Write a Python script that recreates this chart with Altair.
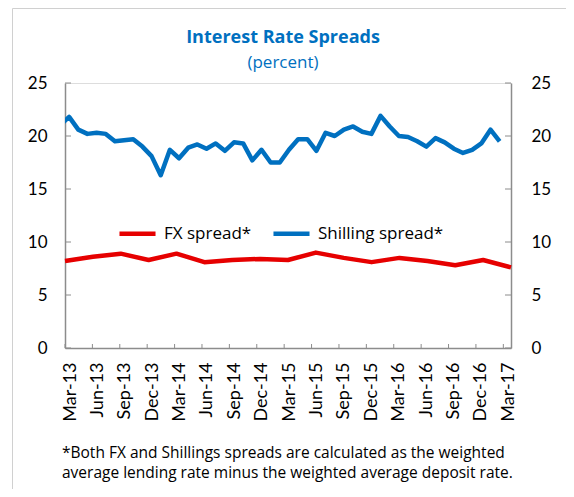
import altair as alt
import pandas as pd

quarter_labels = ["Mar-13", "Jun-13", "Sep-13", "Dec-13", "Mar-14", "Jun-14", "Sep-14",
                  "Dec-14", "Mar-15", "Jun-15", "Sep-15", "Dec-15", "Mar-16", "Jun-16",
                  "Sep-16", "Dec-16", "Mar-17"]
shilling_spread = [21.0, 21.8, 20.6, 20.2, 20.3, 20.2, 19.5, 19.6, 19.7, 19.0, 18.1, 16.3,
                   18.7, 17.9, 18.9, 19.2, 18.8, 19.3, 18.6, 19.4, 19.3, 17.7, 18.7, 17.5,
                   17.5, 18.7, 19.7, 19.7, 18.6, 20.3, 20.0, 20.6, 20.9, 20.4, 20.2, 21.9,
                   20.9, 20.0, 19.9, 19.5, 19.0, 19.8, 19.4, 18.8, 18.4, 18.7, 19.3, 20.6,
                   19.5]
fx_spread = [8.2, 8.6, 8.9, 8.3, 8.9, 8.1, 8.3, 8.4, 8.3, 9.0, 8.5, 8.1, 8.5, 8.2, 7.8, 8.3, 7.6]
y_ticks = [0, 5, 10, 15, 20, 25]
series_names = ["FX spread*", "Shilling spread*"]
series_colors = ["#E60000", "#0070C0"]
title_text = "Interest Rate Spreads"
subtitle_text = "(percent)"
footnote = ["*Both FX and Shillings spreads are calculated as the weighted",
            "average lending rate minus the weighted average deposit rate."]

W, H = 446, 265
FONT = "Lato"
WIDE = "Open Sans"
GRAY = "#8c8c8c"
TITLE_BLUE = "#0070C0"

blue_df = pd.DataFrame({"m": list(range(len(shilling_spread))), "v": shilling_spread,
                        "s": series_names[1]})
red_df = pd.DataFrame({"q": list(range(len(fx_spread))), "v": fx_spread, "s": series_names[0]})
q_df = pd.DataFrame({"q": list(range(len(quarter_labels)))})
yt_df = pd.DataFrame({"v": y_ticks})
foot_df = pd.DataFrame({"t": ["\n".join(footnote)]})
title_df = pd.DataFrame({"t": [title_text]})
subtitle_df = pd.DataFrame({"t": [subtitle_text]})

yscale = alt.Scale(domain=[0, 25], nice=False, zero=True)
axis_scale = alt.Scale(domain=[0, 16.28], nice=False, zero=False)

color = alt.Color(
    "s:N",
    scale=alt.Scale(domain=series_names, range=series_colors),
    legend=alt.Legend(
        orient="none", legendX=52, legendY=130, direction="horizontal", title=None,
        symbolType="stroke", symbolSize=1300, symbolStrokeWidth=4.5,
        labelFontSize=17, labelFont=WIDE, labelColor="black",
        columnPadding=12, labelOffset=6, labelLimit=300,
    ),
)

def yaxis(orient, pad):
    return alt.Axis(orient=orient, values=y_ticks, ticks=False, grid=False, title=None,
                    labelFontSize=17, labelFont=FONT, labelColor="black",
                    labelPadding=pad, domainColor=GRAY, domainWidth=1.5)

blue = alt.Chart(blue_df).mark_line(strokeWidth=4.5, clip=True, strokeJoin="round").encode(
    x=alt.X("m:Q", scale=alt.Scale(domain=[0.55, 49.24], nice=False, zero=False), axis=None),
    y=alt.Y("v:Q", scale=yscale, axis=yaxis("left", 18)),
    color=color,
)

red = alt.Chart(red_df).mark_line(strokeWidth=4.5, strokeJoin="round").encode(
    x=alt.X("q:Q", scale=alt.Scale(domain=[0, 16], nice=False, zero=False), axis=None),
    y=alt.Y("v:Q", scale=yscale, axis=yaxis("right", 20)),
    color=color,
)

label_expr = "[" + ",".join("'" + s + "'" for s in quarter_labels) + "][datum.value]"
xaxis_layer = alt.Chart(q_df).mark_point(opacity=0).encode(
    x=alt.X("q:Q", scale=axis_scale,
            axis=alt.Axis(orient="bottom", values=list(range(len(quarter_labels))),
                          labelExpr=label_expr, labelAngle=270, ticks=False, grid=False,
                          title=None, labelFontSize=18, labelFont=FONT, labelColor="black",
                          labelPadding=14, labelOffset=5, domainColor=GRAY, domainWidth=1.5,
                          labelOverlap=False)),
)

xticks = alt.Chart(q_df).mark_rule(color=GRAY, strokeWidth=1).encode(
    x=alt.X("q:Q", scale=axis_scale, axis=None),
    y=alt.value(H), y2=alt.value(H - 4),
)
lticks = alt.Chart(yt_df).mark_rule(color=GRAY, strokeWidth=1).encode(
    y=alt.Y("v:Q", scale=yscale, axis=None), x=alt.value(0), x2=alt.value(6),
)
rticks = alt.Chart(yt_df).mark_rule(color=GRAY, strokeWidth=1).encode(
    y=alt.Y("v:Q", scale=yscale, axis=None), x=alt.value(W - 6), x2=alt.value(W),
)

title_mark = alt.Chart(title_df).mark_text(align="center", baseline="middle", fontSize=18,
                                           fontWeight="bold", font=WIDE,
                                           color=TITLE_BLUE).encode(
    text="t:N", x=alt.value(W / 2 - 5), y=alt.value(-45),
)
subtitle_mark = alt.Chart(subtitle_df).mark_text(align="center", baseline="middle",
                                                 fontSize=17, font=WIDE,
                                                 color=TITLE_BLUE).encode(
    text="t:N", x=alt.value(W / 2 - 5), y=alt.value(-20),
)

foot = alt.Chart(foot_df).mark_text(align="left", baseline="alphabetic", fontSize=15.5,
                                    font=WIDE, lineBreak="\n", lineHeight=20,
                                    color="black").encode(
    text="t:N", x=alt.value(-3), y=alt.value(H + 110),
)

frame_left = alt.Chart(foot_df).mark_rule(color="#d0d0d0", strokeWidth=1).encode(
    x=alt.value(-52.5), y=alt.value(-74.5), y2=alt.value(420),
)
frame_top = alt.Chart(foot_df).mark_rule(color="#d0d0d0", strokeWidth=1).encode(
    x=alt.value(-52.5), x2=alt.value(520), y=alt.value(-74.5),
)

chart = alt.layer(
    frame_left, frame_top, title_mark, subtitle_mark, xaxis_layer, xticks, lticks, rticks,
    red, blue, foot
).resolve_scale(
    x="independent", y="independent", color="shared"
).properties(
    width=W, height=H,
    autosize=alt.AutoSizeParams(type="none"),
    padding={"left": 57, "top": 75, "right": 55, "bottom": 141},
).configure_view(stroke=None).configure(background="white")

chart.save("out.html", embed_options={"renderer": "svg", "actions": False})
